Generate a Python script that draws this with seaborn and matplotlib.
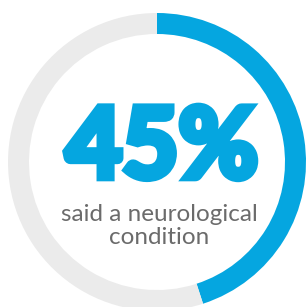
import matplotlib.pyplot as plt
import matplotlib.patheffects as pe
import seaborn as sns

# data
shares = [45, 55]
parts = ["neurological condition", "other"]
colours = ["#05a6e0", "#ebebeb"]
caption = "said a neurological\ncondition"

sns.set_theme(style="white")
plt.rcParams['font.family'] = ['Lato', 'DejaVu Sans']

fig = plt.figure(figsize=(3.06, 3.07), dpi=100)
ax = fig.add_axes([0, 0, 1, 1])

ax.pie(shares, colors=colours, startangle=90, counterclock=False,
       center=(157, 145), radius=149,
       wedgeprops=dict(width=21, linewidth=0))

ax.set_xlim(0, 306)
ax.set_ylim(0, 307)
ax.set_aspect('equal')
ax.axis('off')

# Lato has no black weight here, so thicken the bold glyphs with a stroke
ax.text(162, 158, f"{shares[0]}%", ha='center', va='center',
        fontsize=70, fontweight='bold', color=colours[0],
        path_effects=[pe.withStroke(linewidth=5.5, foreground=colours[0],
                                    joinstyle='miter')])
ax.text(159, 81, caption, ha='center', va='center',
        fontsize=17.5, fontweight='normal', color='#6b6b6b', linespacing=1.15)

fig.savefig("out.png", dpi=100)
